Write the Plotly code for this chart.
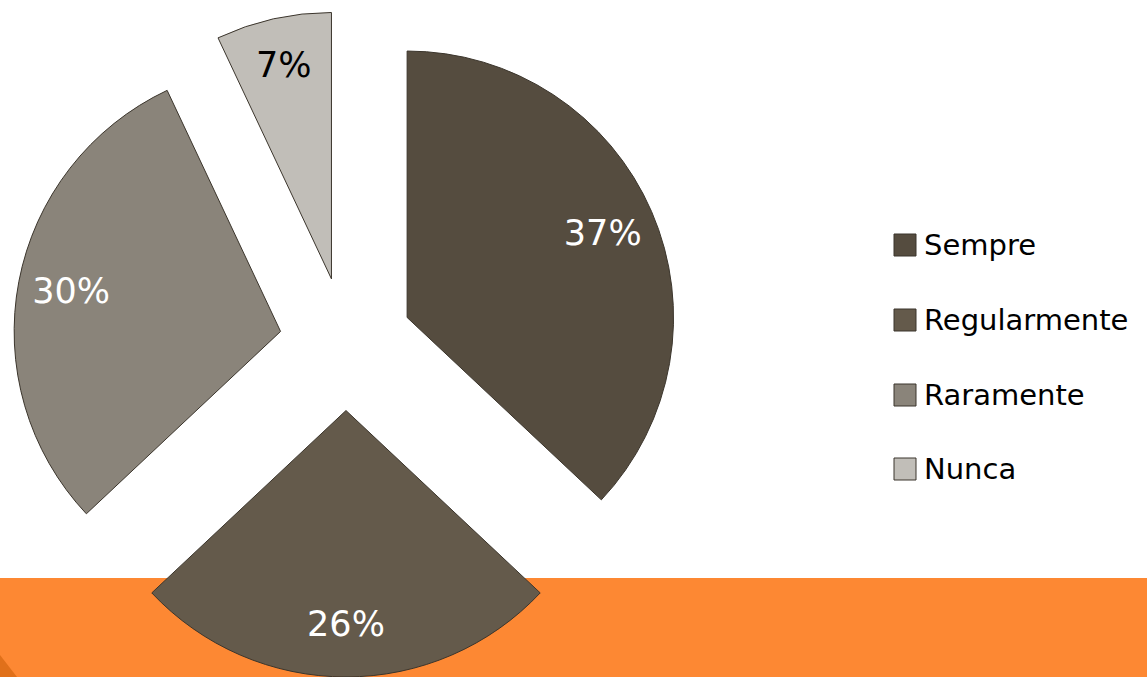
import plotly.graph_objects as go

# Survey answers and their shares (%)
labels = ["Sempre", "Regularmente", "Raramente", "Nunca"]
values = [37, 26, 30, 7]

# Slice styling
slice_colors = ["#554c3f", "#645a4b", "#8a847a", "#c1beb8"]
text_colors = ["white", "white", "white", "black"]
pull_amount = [0.25, 0.25, 0.25, 0.25]

W, H = 1147, 677
FONT = "DejaVu Sans"
PIE_DOMAIN = dict(x=[0.0113, 0.592], y=[0.0, 0.984])

fig = go.Figure()

# Filled slices
fig.add_trace(go.Pie(
    labels=labels,
    values=values,
    sort=False,
    direction="clockwise",
    rotation=0,
    pull=pull_amount,
    marker=dict(colors=slice_colors, line=dict(color="#3b352c", width=1)),
    textinfo="none",
    hoverinfo="label+percent",
    showlegend=False,
    domain=PIE_DOMAIN,
))

# Percentage labels placed in the outer ring of each slice
fig.add_trace(go.Pie(
    labels=labels,
    values=values,
    sort=False,
    direction="clockwise",
    rotation=0,
    pull=pull_amount,
    hole=0.6,
    marker=dict(colors=["rgba(0,0,0,0)"] * len(labels), line=dict(width=0)),
    texttemplate="%{percent:.0%}",
    textposition="inside",
    insidetextorientation="horizontal",
    textfont=dict(family=FONT, size=35, color=text_colors),
    hoverinfo="skip",
    showlegend=False,
    domain=PIE_DOMAIN,
))

# Orange footer band and darker corner accent
shapes = [
    dict(type="rect", xref="paper", yref="paper", x0=0, x1=1, y0=0, y1=99 / H,
         fillcolor="#fd8833", line=dict(width=0), layer="below"),
    dict(type="path", xref="paper", yref="paper",
         path=f"M 0,0 L 0,{22 / H} L {17 / W},0 Z",
         fillcolor="#e0701a", line=dict(width=0), layer="below"),
]

# Legend: swatch + label per category
annotations = []
row_y = [245, 320, 395, 469]
sw = 22
for lab, col, yc in zip(labels, slice_colors, row_y):
    shapes.append(dict(
        type="rect", xref="paper", yref="paper",
        x0=894 / W, x1=(894 + sw) / W,
        y0=1 - (yc + sw / 2) / H, y1=1 - (yc - sw / 2) / H,
        fillcolor=col, line=dict(color="#3b352c", width=1),
    ))
    annotations.append(dict(
        text=lab, xref="paper", yref="paper",
        x=922 / W, y=1 - yc / H, xanchor="left", yanchor="middle",
        showarrow=False, font=dict(family=FONT, size=29, color="black"),
    ))

fig.update_layout(
    width=W, height=H,
    margin=dict(l=0, r=0, t=0, b=0),
    paper_bgcolor="white",
    plot_bgcolor="white",
    shapes=shapes,
    annotations=annotations,
)

fig.write_html("out.html")
